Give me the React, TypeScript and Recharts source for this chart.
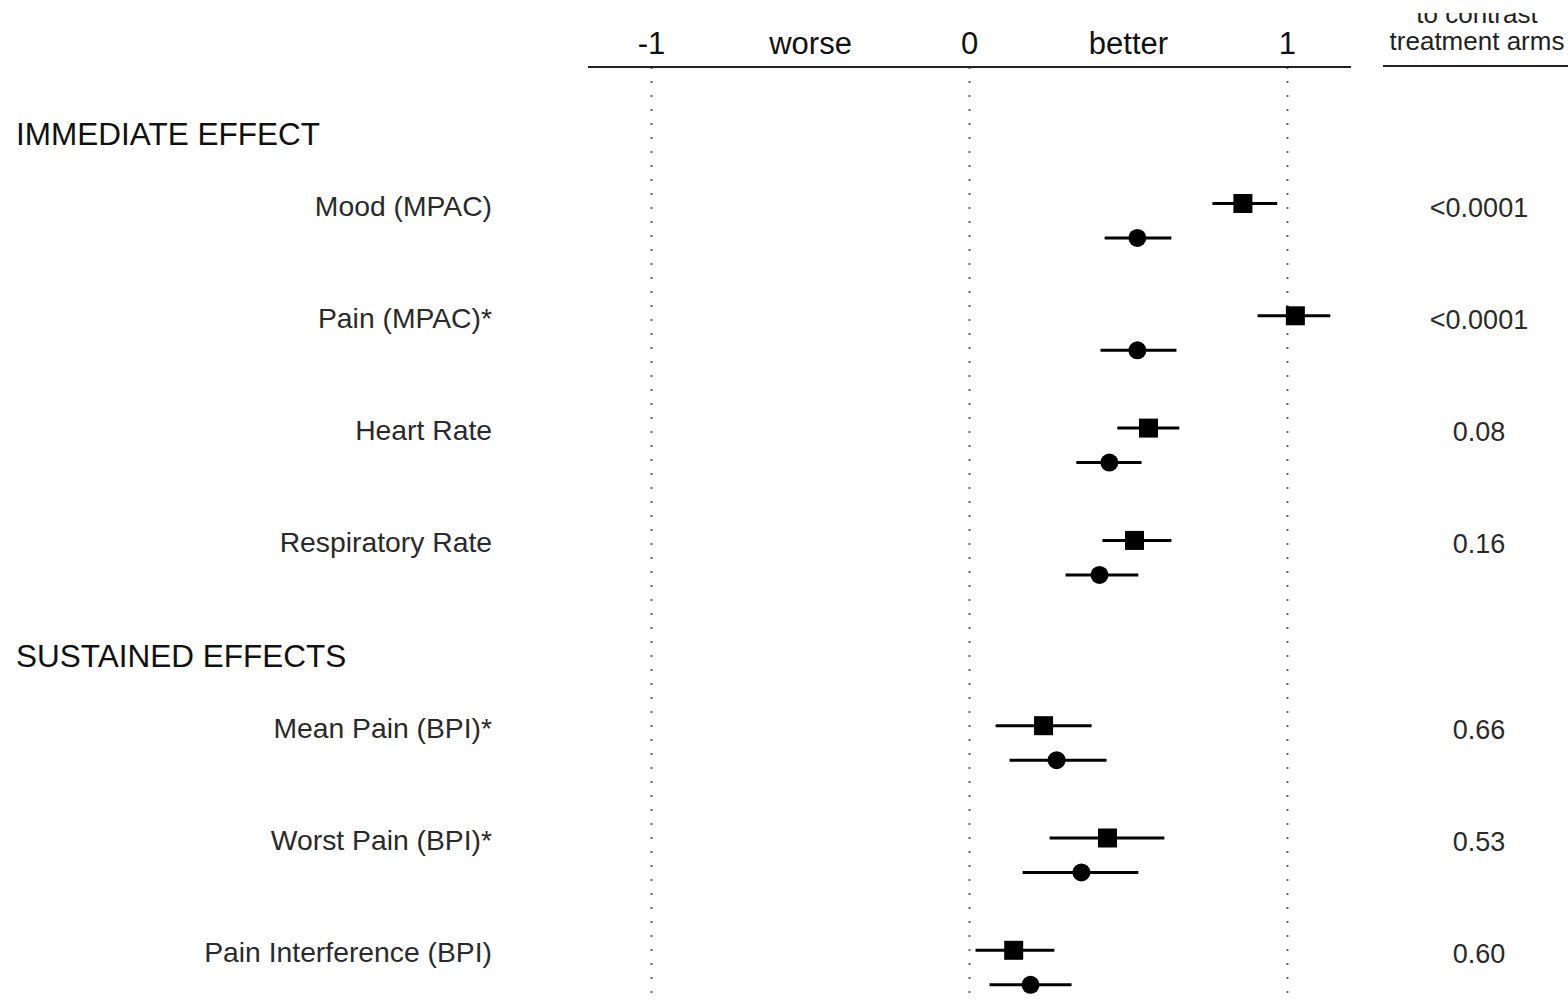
import {
  ComposedChart,
  ErrorBar,
  ReferenceLine,
  Scatter,
  XAxis,
  YAxis,
} from 'recharts';

// Outcomes, grouped under two section headers
const groups = ['IMMEDIATE EFFECT', 'SUSTAINED EFFECTS'];
const outcomes = [
  'Mood (MPAC)',
  'Pain (MPAC)*',
  'Heart Rate',
  'Respiratory Rate',
  'Mean Pain (BPI)*',
  'Worst Pain (BPI)*',
  'Pain Interference (BPI)',
];
const outcomeGroup = [0, 0, 0, 0, 1, 1, 1];

// Arm shown with squares
const squareEst = [0.86, 1.025, 0.563, 0.519, 0.233, 0.434, 0.139];
const squareLow = [0.764, 0.906, 0.465, 0.418, 0.082, 0.252, 0.019];
const squareHigh = [0.968, 1.135, 0.66, 0.635, 0.384, 0.613, 0.267];

// Arm shown with circles
const circleEst = [0.528, 0.528, 0.44, 0.409, 0.274, 0.352, 0.192];
const circleLow = [0.425, 0.412, 0.336, 0.302, 0.126, 0.167, 0.063];
const circleHigh = [0.635, 0.651, 0.541, 0.531, 0.431, 0.531, 0.321];

const pValues = ['<0.0001', '<0.0001', '0.08', '0.16', '0.66', '0.53', '0.60'];

const xTicks = [-1, -0.5, 0, 0.5, 1];
const xTickLabels = ['-1', 'worse', '0', 'better', '1'];

const FONT = '"Liberation Sans", Arial, Helvetica, sans-serif';
const W = 1568;
const H = 1005;
const LEFT = 588;
const RIGHT = 217;
const TOP_AXIS = 67;
const UNIT = 112.3; // px per row slot

// row layout (in slot units, not data)
const headerSlots: number[] = [];
const rowSlots: number[] = [];
{
  let s = 0;
  groups.forEach((_, gi) => {
    headerSlots.push(s);
    s += 0.61;
    outcomes.forEach((_, i) => {
      if (outcomeGroup[i] !== gi) return;
      rowSlots[i] = s;
      s += 1;
    });
    s += 0.04;
  });
}
const CIRCLE_OFFSET = 0.307;
const yMin = -68 / UNIT;
const yMax = yMin + (H - TOP_AXIS) / UNIT;

const squareData = outcomes.map((_, i) => ({
  x: squareEst[i],
  y: rowSlots[i],
  err: [squareEst[i] - squareLow[i], squareHigh[i] - squareEst[i]],
}));
const circleData = outcomes.map((_, i) => ({
  x: circleEst[i],
  y: rowSlots[i] + CIRCLE_OFFSET,
  err: [circleEst[i] - circleLow[i], circleHigh[i] - circleEst[i]],
}));

const key = (v: number) => v.toFixed(3);
const tickInfo = new Map<string, { kind: 'header' | 'row'; i: number }>();
headerSlots.forEach((s, i) => tickInfo.set(key(s), { kind: 'header', i }));
rowSlots.forEach((s, i) => tickInfo.set(key(s), { kind: 'row', i }));
const yTicks = [...headerSlots, ...rowSlots].sort((a, b) => a - b);

const XTick = (props: any) => {
  const { x, payload } = props;
  const idx = xTicks.indexOf(payload.value);
  return (
    <text x={x} y={54} textAnchor="middle" fontFamily={FONT} fontSize={31} fill="#111">
      {xTickLabels[idx]}
    </text>
  );
};

const YTick = (props: any) => {
  const { y, payload } = props;
  const info = tickInfo.get(key(payload.value));
  if (!info) return null;
  if (info.kind === 'header') {
    return (
      <text x={16} y={y + 10} fontFamily={FONT} fontSize={31.5} fill="#111">
        {groups[info.i]}
      </text>
    );
  }
  return (
    <g>
      <text x={492} y={y + 12} textAnchor="end" fontFamily={FONT} fontSize={28.3} fill="#2a2a2a">
        {outcomes[info.i]}
      </text>
      <text x={1479} y={y + 13} textAnchor="middle" fontFamily={FONT} fontSize={27} fill="#2a2a2a">
        {pValues[info.i]}
      </text>
    </g>
  );
};

const Square = (props: any) => (
  <rect x={props.cx - 9.5} y={props.cy - 9.5} width={19} height={19} fill="#000" />
);
const Dot = (props: any) => <circle cx={props.cx} cy={props.cy} r={9} fill="#000" />;

export default function App() {
  return (
    <div style={{ position: 'absolute', left: 0, top: 0, width: W, height: H, background: '#fff' }}>
      <ComposedChart width={W} height={H} margin={{ top: 0, right: RIGHT, bottom: 0, left: 0 }}>
        <XAxis
          dataKey="x"
          type="number"
          orientation="top"
          domain={[-1.2, 1.2]}
          allowDataOverflow
          ticks={xTicks}
          tick={<XTick />}
          tickLine={false}
          height={TOP_AXIS}
          axisLine={{ stroke: '#222', strokeWidth: 2 }}
        />
        <YAxis
          dataKey="y"
          type="number"
          reversed
          domain={[yMin, yMax]}
          allowDataOverflow
          ticks={yTicks}
          tick={<YTick />}
          interval={0}
          axisLine={false}
          tickLine={false}
          width={LEFT}
        />
        {[-1, 0, 1].map((v) => (
          <ReferenceLine key={v} x={v} stroke="#666" strokeWidth={2} strokeDasharray="2 12" />
        ))}
        <Scatter data={squareData} shape={<Square />} isAnimationActive={false}>
          <ErrorBar dataKey="err" direction="x" width={0} stroke="#000" strokeWidth={3} />
        </Scatter>
        <Scatter data={circleData} shape={<Dot />} isAnimationActive={false}>
          <ErrorBar dataKey="err" direction="x" width={0} stroke="#000" strokeWidth={3} />
        </Scatter>
      </ComposedChart>
      <svg
        width={W}
        height={TOP_AXIS + 2}
        style={{ position: 'absolute', left: 0, top: 0, pointerEvents: 'none' }}
      >
        <text x={1477} y={23} textAnchor="middle" fontFamily={FONT} fontSize={26} fill="#222">
          to contrast
        </text>
        <rect x={1370} y={0} width={198} height={13} fill="#fff" />
        <text x={1477} y={50} textAnchor="middle" fontFamily={FONT} fontSize={26} fill="#222">
          treatment arms
        </text>
        <line x1={1383} x2={W} y1={66} y2={66} stroke="#222" strokeWidth={2} />
      </svg>
    </div>
  );
}
